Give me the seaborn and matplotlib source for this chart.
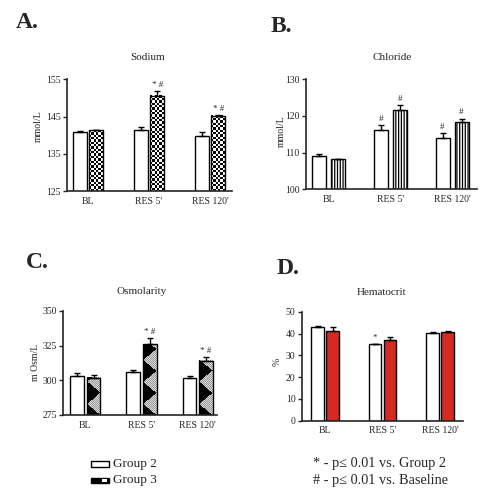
import numpy as np
import pandas as pd
import matplotlib
matplotlib.use("Agg")
import matplotlib.pyplot as plt
from matplotlib.patches import Rectangle
import seaborn as sns

# ---------------- data ----------------
categories = ["BL", "RES 5'", "RES 120'"]
groups = ["Group 2", "Group 3"]

sodium_g2 = [140.9, 141.4, 139.8]
sodium_g2_err = [0.3, 0.7, 1.1]
sodium_g3 = [141.3, 150.5, 145.2]
sodium_g3_err = [0.2, 1.4, 0.3]
sodium_marks_g2 = ["", "", ""]
sodium_marks_g3 = ["", "* #", "* #"]

chloride_g2 = [109.1, 116.2, 114.1]
chloride_g2_err = [0.6, 1.4, 1.2]
chloride_g3 = [108.2, 121.5, 118.3]
chloride_g3_err = [0.2, 1.5, 1.0]
chloride_marks_g2 = ["", "#", "#"]
chloride_marks_g3 = ["", "#", "#"]

osm_g2 = [303.4, 305.8, 301.4]
osm_g2_err = [1.9, 1.9, 1.7]
osm_g3 = [302.0, 326.0, 314.2]
osm_g3_err = [1.5, 4.3, 2.6]
osm_marks_g2 = ["", "", ""]
osm_marks_g3 = ["", "* #", "* #"]

hct_g2 = [43.0, 35.0, 40.1]
hct_g2_err = [0.4, 0.3, 0.4]
hct_g3 = [41.1, 37.2, 40.7]
hct_g3_err = [1.8, 1.4, 0.4]
hct_marks_g2 = ["", "*", ""]
hct_marks_g3 = ["", "", ""]

legend_notes = ["* - p\u2264 0.01 vs. Group 2", "# - p\u2264 0.01 vs. Baseline"]

# ---------------- style ----------------
sns.set_theme(style="ticks")
plt.rcParams["font.family"] = ["Liberation Serif", "DejaVu Serif"]
plt.rcParams["hatch.linewidth"] = 0.9

W, H = 483, 499
fig = plt.figure(figsize=(W / 100, H / 100), dpi=100)
fig.patch.set_facecolor("white")


def fx(px):
    return px / W


def fy(py):
    return 1 - py / H


def axes_px(left, top, right, bottom):
    return fig.add_axes([fx(left), fy(bottom), (right - left) / W, (bottom - top) / H])


def add_texture(ax, bar, kind):
    ylo = max(bar.get_y(), ax.get_ylim()[0])
    yhi = bar.get_y() + bar.get_height()
    x0, x1 = bar.get_x(), bar.get_x() + bar.get_width()
    (px0, py0), (px1, py1) = ax.transData.transform([(x0, ylo), (x1, yhi)])
    nx = max(int(round(px1 - px0)) * 2, 2)
    ny = max(int(round(py1 - py0)) * 2, 2)
    jj, ii = np.meshgrid(np.arange(nx) / 2.0, np.arange(ny) / 2.0)
    if kind == "checker":
        cell = 2.35
        img = ((np.floor(jj / cell) + np.floor(ii / cell)) % 2).astype(float)
    else:  # wave pattern: grey dotted lobes on black
        u = (jj + 0.5) / (nx / 2.0)
        v = (ny / 2.0 - ii)
        phase = (v / 22.0) % 1.0
        tri = 1 - np.abs(2 * phase - 1)
        lobe = u > 1 - 0.95 * tri
        dots = ((np.floor(jj) + np.floor(ii)) % 2 == 0)
        img = np.where(lobe, np.where(dots, 0.85, 0.6), 0.0)
    ax.imshow(img, extent=(x0, x1, ylo, yhi), cmap="gray", vmin=0, vmax=1,
              interpolation="nearest", aspect="auto", origin="upper", zorder=1.5)
    bar.set_facecolor("none")
    bar.set_zorder(2)


panels = [
    dict(box=(67.3, 79.3, 232.0, 191.3), xlim=(-0.34, 2.36), ylim=(125, 155),
         yticks=[125, 135, 145, 155], width=0.54, gap=0.15,
         g2=sodium_g2, e2=sodium_g2_err, g3=sodium_g3, e3=sodium_g3_err,
         m2=sodium_marks_g2, m3=sodium_marks_g3, c3="white", texture="checker", hatch=None,
         title="Sodium", title_xy=(148, 57), letter="A.", letter_xy=(16, 23),
         ylabel="mmol/L", ylabel_xy=(38, 126)),
    dict(box=(306.0, 79.3, 476.7, 189.3), xlim=(-0.37, 2.40), ylim=(100, 130),
         yticks=[100, 110, 120, 130], width=0.617, gap=0.26,
         g2=chloride_g2, e2=chloride_g2_err, g3=chloride_g3, e3=chloride_g3_err,
         m2=chloride_marks_g2, m3=chloride_marks_g3, c3="white", texture=None, hatch="||||||",
         title="Chloride", title_xy=(391.7, 57), letter="B.", letter_xy=(271, 27),
         ylabel="mmol/L", ylabel_xy=(281, 131)),
    dict(box=(63.3, 311.0, 217.0, 415.0), xlim=(-0.39, 2.34), ylim=(275, 350),
         yticks=[275, 300, 325, 350], width=0.586, gap=0.17,
         g2=osm_g2, e2=osm_g2_err, g3=osm_g3, e3=osm_g3_err,
         m2=osm_marks_g2, m3=osm_marks_g3, c3="black", texture="wave", hatch=None,
         title="Osmolarity", title_xy=(142, 291.7), letter="C.", letter_xy=(26, 263),
         ylabel="m Osm/L", ylabel_xy=(36, 362)),
    dict(box=(301.7, 311.7, 462.7, 420.7), xlim=(-0.405, 2.39), ylim=(0, 50),
         yticks=[0, 10, 20, 30, 40, 50], width=0.52, gap=0.165,
         g2=hct_g2, e2=hct_g2_err, g3=hct_g3, e3=hct_g3_err,
         m2=hct_marks_g2, m3=hct_marks_g3, c3="#d42a22", texture=None, hatch=None,
         title="Hematocrit", title_xy=(381.7, 292.7), letter="D.", letter_xy=(277, 268),
         ylabel="%", ylabel_xy=(277, 362)),
]

for p in panels:
    ax = axes_px(*p["box"])
    df = pd.DataFrame({
        "time": categories * 2,
        "group": [groups[0]] * 3 + [groups[1]] * 3,
        "value": list(p["g2"]) + list(p["g3"]),
    })
    sns.barplot(data=df, x="time", y="value", hue="group", order=categories,
                hue_order=groups, palette={groups[0]: "white", groups[1]: p["c3"]},
                saturation=1, width=p["width"], gap=p["gap"], errorbar=None,
                edgecolor="black", linewidth=1.0, legend=False, ax=ax)
    ax.set_xlim(*p["xlim"])
    ax.set_ylim(*p["ylim"])
    ax.set_yticks(p["yticks"])
    ax.set_yticklabels([str(t) for t in p["yticks"]])
    ax.set_xlabel("")
    ax.set_ylabel("")
    sns.despine(ax=ax)
    for s in ("left", "bottom"):
        ax.spines[s].set_linewidth(1.2)
    ax.tick_params(axis="y", length=3, width=1, pad=1.5, labelsize=7)
    ax.tick_params(axis="x", length=0, pad=4, labelsize=7)

    for h, (vals, errs, marks) in enumerate([(p["g2"], p["e2"], p["m2"]),
                                             (p["g3"], p["e3"], p["m3"])]):
        cont = ax.containers[h]
        xs = [b.get_x() + b.get_width() / 2 for b in cont]
        if h == 1 and p["texture"]:
            for b in cont:
                add_texture(ax, b, p["texture"])
        if h == 1 and p["hatch"]:
            for b in cont:
                b.set_hatch(p["hatch"])
        ax.errorbar(xs, vals, yerr=[np.zeros(len(vals)), errs], fmt="none",
                    ecolor="black", elinewidth=1.0, capsize=2.5, capthick=1.0, zorder=3)
        for x, v, e, m in zip(xs, vals, errs, marks):
            if m:
                ax.annotate(m, (x, v + e), xytext=(0, 1.5), textcoords="offset points",
                            ha="center", va="bottom", fontsize=6.5)
    ax.set_xlim(*p["xlim"])
    ax.set_ylim(*p["ylim"])

    fig.text(fx(p["title_xy"][0]), fy(p["title_xy"][1]), p["title"], ha="center",
             va="center", fontsize=8)
    fig.text(fx(p["letter_xy"][0]), fy(p["letter_xy"][1]), p["letter"], ha="left",
             va="center", fontsize=17, fontweight="bold")
    fig.text(fx(p["ylabel_xy"][0]), fy(p["ylabel_xy"][1]), p["ylabel"], ha="center",
             va="center", fontsize=7, rotation=90)

# ---------------- legend ----------------
leg_y = [464, 480.5]
fig.add_artist(Rectangle((fx(91), fy(leg_y[0] + 2.7)), 17.5 / W, 5.4 / H,
                         facecolor="white", edgecolor="black", linewidth=1.0,
                         transform=fig.transFigure))
fig.add_artist(Rectangle((fx(91), fy(leg_y[1] + 2.7)), 17.5 / W, 5.4 / H,
                         facecolor="black", edgecolor="black", linewidth=1.0,
                         transform=fig.transFigure))
fig.add_artist(Rectangle((fx(102), fy(leg_y[1] + 1.6)), 4.5 / W, 3.2 / H,
                         facecolor="white", edgecolor="none",
                         transform=fig.transFigure))
for g, yy in zip(groups, leg_y):
    fig.text(fx(113), fy(yy), g, ha="left", va="center", fontsize=9.5)
for note, yy in zip(legend_notes, leg_y):
    fig.text(fx(313), fy(yy), note, ha="left", va="center", fontsize=10.3)

fig.savefig("out.png", dpi=100, facecolor="white")
